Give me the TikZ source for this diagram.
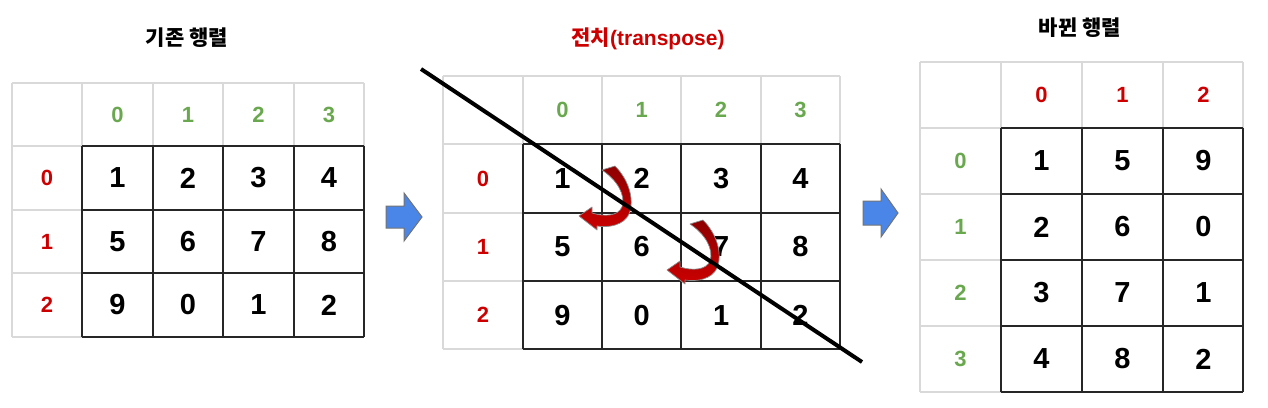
\documentclass[tikz,border=0pt]{standalone}
\usepackage{fontspec}
\setmainfont{Liberation Sans}
\newfontfamily\kr{Noto Sans CJK KR}
\usetikzlibrary{arrows.meta}
\definecolor{hdrgreen}{HTML}{6AA84F}
\definecolor{hdrred}{HTML}{CC0000}
\definecolor{gridgray}{HTML}{D9D9D9}
\definecolor{arrowblue}{HTML}{4A86E8}
\definecolor{twistdark}{HTML}{8E0000}
\definecolor{twistlight}{HTML}{CC0000}
\begin{document}
\begin{tikzpicture}[x=1pt,y=-1pt,
  hgrid/.style={draw=gridgray,line width=1.5pt},
  dgrid/.style={draw=black!85,line width=1.5pt},
  num/.style={inner sep=0pt,font=\fontsize{29}{29}\selectfont\bfseries},
  hnum/.style={inner sep=0pt,font=\fontsize{22}{22}\selectfont\bfseries},
  titletext/.style={inner sep=0pt,font=\fontsize{21}{21}\selectfont\bfseries},
  blockarrow/.style={fill=arrowblue,draw=black!55,line width=1pt,line join=miter},
  twist/.style={top color=twistdark,bottom color=twistlight,draw=black!45,line width=0.7pt,line join=round},
  diag/.style={draw=black,line width=4pt}]
\useasboundingbox (0,0) rectangle (1268,407);
\fill[white] (0,0) rectangle (1268,407);
% ---------------- titles
\node[titletext] (t1) at (187,38) {\kr 기존 행렬};
\node[titletext,text=hdrred] (t2) at (648,39) {\kr 전치\rmfamily\bfseries(transpose)};
\node[titletext] (t3) at (1080,27.5) {\kr 바뀐 행렬};
% ---------------- table 1
\foreach \x in {12,82,153,223,294,364} \draw[hgrid] (\x,83) -- (\x,337);
\foreach \y in {83,146,210,273,337} \draw[hgrid] (12,\y) -- (364,\y);
\foreach \x in {82,153,223,294,364} \draw[dgrid] (\x,146) -- (\x,337);
\foreach \y in {146,210,273,337} \draw[dgrid] (82,\y) -- (364,\y);
\foreach \c in {0,1,2,3} \node[hnum,text=hdrgreen] (ah\c) at ({117.5+70.5*\c},114.5) {\c};
\foreach \r in {0,1,2} \node[hnum,text=hdrred] (av\r) at (47,{178+63.5*\r}) {\r};
\foreach \r/\vals in {0/{1,2,3,4},1/{5,6,7,8},2/{9,0,1,2}}
  \foreach \v [count=\c from 0] in \vals
    \node[num] (a\r\c) at ({117.5+70.5*\c},{178+63.5*\r}) {\v};
% ---------------- arrow 1
\draw[blockarrow] (386,206) -- (404,206) -- (404,193) -- (422,217) -- (404,241) -- (404,228) -- (386,228) -- cycle;
% ---------------- table 2
\foreach \x in {443,523,602,681,761,840} \draw[hgrid] (\x,76) -- (\x,349);
\foreach \y in {76,144,213,281,349} \draw[hgrid] (443,\y) -- (840,\y);
\foreach \x in {523,602,681,761,840} \draw[dgrid] (\x,144) -- (\x,349);
\foreach \y in {144,213,281,349} \draw[dgrid] (523,\y) -- (840,\y);
\foreach \c in {0,1,2,3} \node[hnum,text=hdrgreen] (bh\c) at ({562.5+79.3*\c},110) {\c};
\foreach \r in {0,1,2} \node[hnum,text=hdrred] (bv\r) at (483,{178.5+68.3*\r}) {\r};
\foreach \r/\vals in {0/{1,2,3,4},1/{5,6,7,8},2/{9,0,1,2}}
  \foreach \v [count=\c from 0] in \vals
    \node[num] (b\r\c) at ({562.5+79.3*\c},{178.5+68.3*\r}) {\v};
% curved swap arrows
\foreach \dx/\dy in {0/0,88/54}
  \path[twist,shift={(\dx,\dy)}] (615,166)
    .. controls (628,179) and (635,199) .. (629,214)
    .. controls (624,225) and (609,228) .. (597,226)
    -- (597,230) -- (579,216) -- (592,207) -- (592,213)
    .. controls (605,217) and (618,216) .. (622,207)
    .. controls (626,195) and (617,180) .. (602,170)
    -- cycle;
% diagonal
\coordinate (ds) at (421,69);
\coordinate (de) at (862,362);
\draw[diag] (ds) -- (de);
% ---------------- arrow 2
\draw[blockarrow] (863,201) -- (881,201) -- (881,189) -- (898,213) -- (881,237) -- (881,225) -- (863,225) -- cycle;
% ---------------- table 3
\foreach \x in {920,1001,1082,1163,1243} \draw[hgrid] (\x,62) -- (\x,392);
\foreach \y in {62,128,194,260,326,392} \draw[hgrid] (920,\y) -- (1243,\y);
\foreach \x in {1001,1082,1163,1243} \draw[dgrid] (\x,128) -- (\x,392);
\foreach \y in {128,194,260,326,392} \draw[dgrid] (1001,\y) -- (1243,\y);
\foreach \c in {0,1,2} \node[hnum,text=hdrred] (ch\c) at ({1041.5+81*\c},95) {\c};
\foreach \r in {0,1,2,3} \node[hnum,text=hdrgreen] (cv\r) at (960.5,{161+66*\r}) {\r};
\foreach \r/\vals in {0/{1,5,9},1/{2,6,0},2/{3,7,1},3/{4,8,2}}
  \foreach \v [count=\c from 0] in \vals
    \node[num] (c\r\c) at ({1041.5+81*\c},{161+66*\r}) {\v};
\end{tikzpicture}
\end{document}
